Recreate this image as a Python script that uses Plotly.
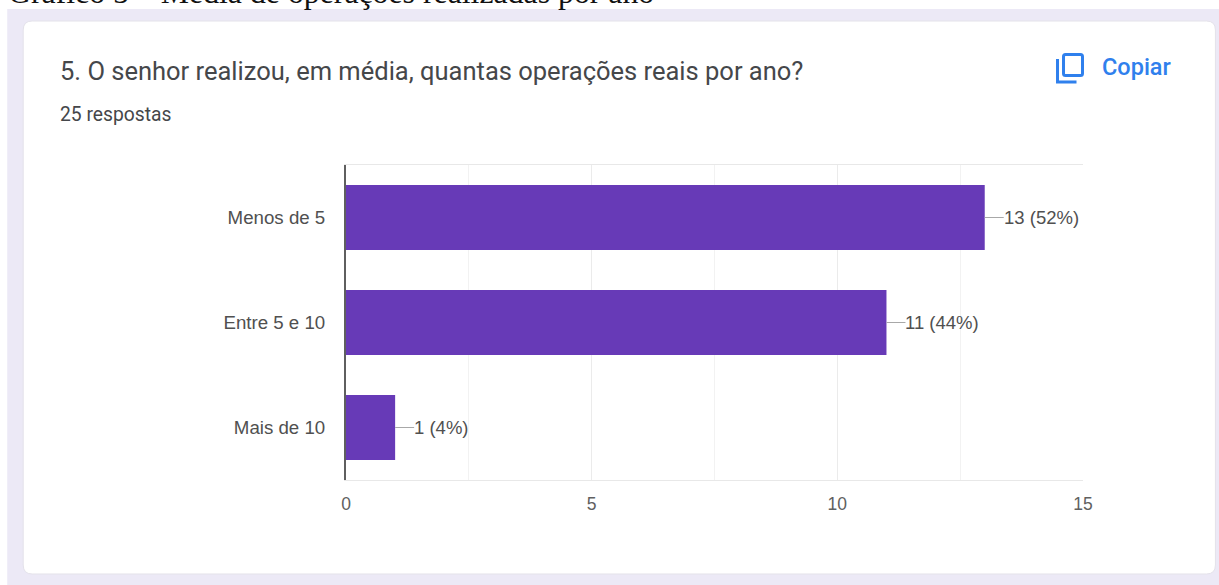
import plotly.graph_objects as go

categories = ["Menos de 5", "Entre 5 e 10", "Mais de 10"]
counts = [13, 11, 1]
percents = [52, 44, 4]
major_ticks = [0, 5, 10, 15]
caption = "Gráfico 5 – Média de operações realizadas por ano"
question = "5. O senhor realizou, em média, quantas operações reais por ano?"
responses = "25 respostas"
copy_label = "Copiar"

W, H = 1219, 585
LEFT, RIGHT, TOP, BOTTOM = 346, 1083.5, 165, 480
PURPLE = "#673ab7"
BLUE = "#2f80ed"


def px(x):
    return (x - LEFT) / (RIGHT - LEFT)


def py(y):
    return (BOTTOM - y) / (BOTTOM - TOP)


def rounded(x0, y0, x1, y1, r):
    # Rounded rectangle expressed in paper coordinates from page pixels
    p = lambda x, y: f"{px(x):.5f},{py(y):.5f}"
    return (
        f"M{p(x0 + r, y0)} L{p(x1 - r, y0)} Q{p(x1, y0)} {p(x1, y0 + r)} "
        f"L{p(x1, y1 - r)} Q{p(x1, y1)} {p(x1 - r, y1)} "
        f"L{p(x0 + r, y1)} Q{p(x0, y1)} {p(x0, y1 - r)} "
        f"L{p(x0, y0 + r)} Q{p(x0, y0)} {p(x0 + r, y0)} Z"
    )


def polyline(points):
    return "M" + " L".join(f"{px(x):.5f},{py(y):.5f}" for x, y in points)


shapes = [
    dict(type="rect", xref="paper", yref="paper", layer="below",
         x0=px(7), x1=px(1225), y0=py(9), y1=py(590),
         fillcolor="#ece9f6", line_width=0),
    dict(type="path", xref="paper", yref="paper", layer="below",
         path=rounded(23, 21, 1216, 574, 9),
         fillcolor="#ffffff", line=dict(color="#e4e2ea", width=1)),
    # Copy icon: front sheet and the corner of the sheet behind it
    dict(type="path", xref="paper", yref="paper",
         path=rounded(1064, 54.5, 1083, 75.5, 2),
         fillcolor="rgba(0,0,0,0)", line=dict(color=BLUE, width=3)),
    dict(type="path", xref="paper", yref="paper",
         path=polyline([(1058, 59), (1058, 82), (1077, 82)]),
         line=dict(color=BLUE, width=3)),
]

annotations = [
    dict(text=caption, xref="paper", yref="paper", x=px(6), y=py(-7),
         xanchor="left", yanchor="middle", showarrow=False,
         font=dict(family="Liberation Serif", size=31.8, color="#111111")),
    dict(text=question, xref="paper", yref="paper", x=px(58), y=py(71),
         xanchor="left", yanchor="middle", showarrow=False,
         font=dict(family="Roboto", size=25.5, color="#45474a")),
    dict(text=responses, xref="paper", yref="paper", x=px(58), y=py(115),
         xanchor="left", yanchor="middle", showarrow=False,
         font=dict(family="Roboto", size=19.3, color="#45474a")),
    dict(text=copy_label, xref="paper", yref="paper", x=px(1101), y=py(67),
         xanchor="left", yanchor="middle", showarrow=False,
         font=dict(family="Roboto", size=23.5, color=BLUE, weight=500)),
]

# Value labels hang off each bar end on a short leader line
for cat, count, pct in zip(categories, counts, percents):
    annotations.append(dict(
        x=count, y=cat, xref="x", yref="y", text=f"{count} ({pct}%)",
        xanchor="left", yanchor="middle", showarrow=True, arrowhead=0,
        arrowwidth=1, arrowcolor="#a8a8a8", ax=19, ay=0, borderpad=0, borderwidth=0,
        font=dict(family="Liberation Sans", size=18.5, color="#505050"),
    ))

fig = go.Figure(go.Bar(
    x=counts, y=categories, orientation="h",
    marker=dict(color=PURPLE, line_width=0), hoverinfo="skip",
))

fig.update_layout(
    width=W, height=H, autosize=False, showlegend=False,
    margin=dict(l=LEFT, r=W - RIGHT, t=TOP, b=H - BOTTOM, pad=0),
    paper_bgcolor="#ffffff", plot_bgcolor="rgba(0,0,0,0)",
    bargap=0.38, shapes=shapes, annotations=annotations,
    xaxis=dict(
        range=[0, 15], tickvals=major_ticks, showgrid=True,
        gridcolor="#ebebeb", gridwidth=1, zeroline=False,
        showline=True, linecolor="#e8e8e8", linewidth=1, mirror=True,
        ticks="outside", ticklen=8, tickcolor="rgba(0,0,0,0)",
        tickfont=dict(family="Liberation Sans", size=17.5, color="#606060"),
        minor=dict(dtick=2.5, showgrid=True, gridcolor="#f2f2f2", gridwidth=1),
    ),
    yaxis=dict(
        categoryorder="array", categoryarray=categories[::-1],
        showgrid=False, zeroline=False, showline=True,
        linecolor="#5f5f5f", linewidth=2,
        ticks="outside", ticklen=15, tickcolor="rgba(0,0,0,0)",
        tickfont=dict(family="Liberation Sans", size=18.7, color="#505050"),
    ),
)

fig.write_html("out.html", config=dict(displayModeBar=False))
